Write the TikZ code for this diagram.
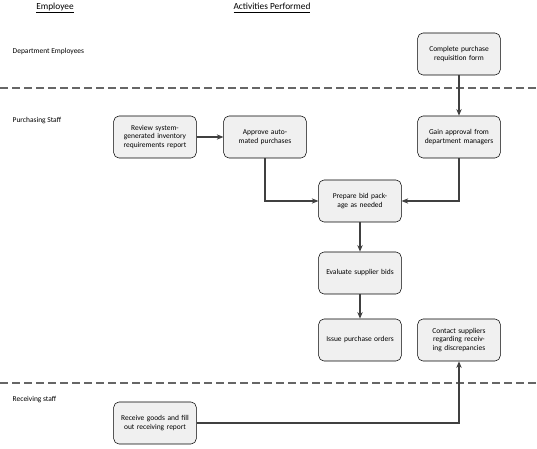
\documentclass[tikz,border=0pt]{standalone}
\usepackage{fontspec}
\setmainfont{Carlito}
\usetikzlibrary{arrows.meta}
\begin{document}
\begin{tikzpicture}[x=0.75pt,y=-0.75pt,
  box/.style={draw=black,rounded corners=4pt,fill=black!6,minimum width=62pt,minimum height=31.5pt,align=center,font=\fontsize{5.6}{6.6}\selectfont,inner sep=1pt,text width=58pt},
  lab/.style={font=\fontsize{5.6}{6.6}\selectfont,anchor=west},
  hdr/.style={font=\fontsize{7}{8}\selectfont},
  arr/.style={-{Stealth[length=5pt,width=4pt]},thick,black!75},
  sep/.style={dashed,black!60,dash pattern=on 6pt off 3pt,thick}]
\useasboundingbox (0,0) rectangle (537,449);
\node[hdr] (h1) at (55,8) {\underline{Employee}};
\node[hdr] (h2) at (272,8) {\underline{Activities Performed}};
\node[lab] (l1) at (8,52) {Department Employees};
\node[lab] (l2) at (8,121) {Purchasing Staff};
\node[lab] (l3) at (8,400) {Receiving staff};
\draw[sep] (0,88) -- (537,88);
\draw[sep] (0,383) -- (537,383);
\node[box] (cp) at (459,54) {Complete purchase requisition form};
\node[box] (rv) at (155,137) {Review system-generated inventory requirements report};
\node[box] (ap) at (265,137) {Approve automated purchases\\[6pt]};
\node[box] (ga) at (459,137) {Gain approval from department managers\\[3pt]};
\node[box] (pb) at (360,201) {Prepare bid package as needed};
\node[box] (ev) at (360,273) {Evaluate supplier bids};
\node[box] (ip) at (360,340) {Issue purchase orders};
\node[box] (cs) at (459,340) {Contact suppliers regarding receiving discrepancies};
\node[box] (rg) at (155,423) {Receive goods and fill out receiving report};
\draw[arr] (cp) -- (ga);
\draw[arr] (rv) -- (ap);
\draw[arr] (ap.south) |- (pb.west);
\draw[arr] (ga.south) |- (pb.east);
\draw[arr] (pb) -- (ev);
\draw[arr] (ev) -- (ip);
\draw[arr] (rg.east) -| (cs.south);
\end{tikzpicture}
\end{document}
